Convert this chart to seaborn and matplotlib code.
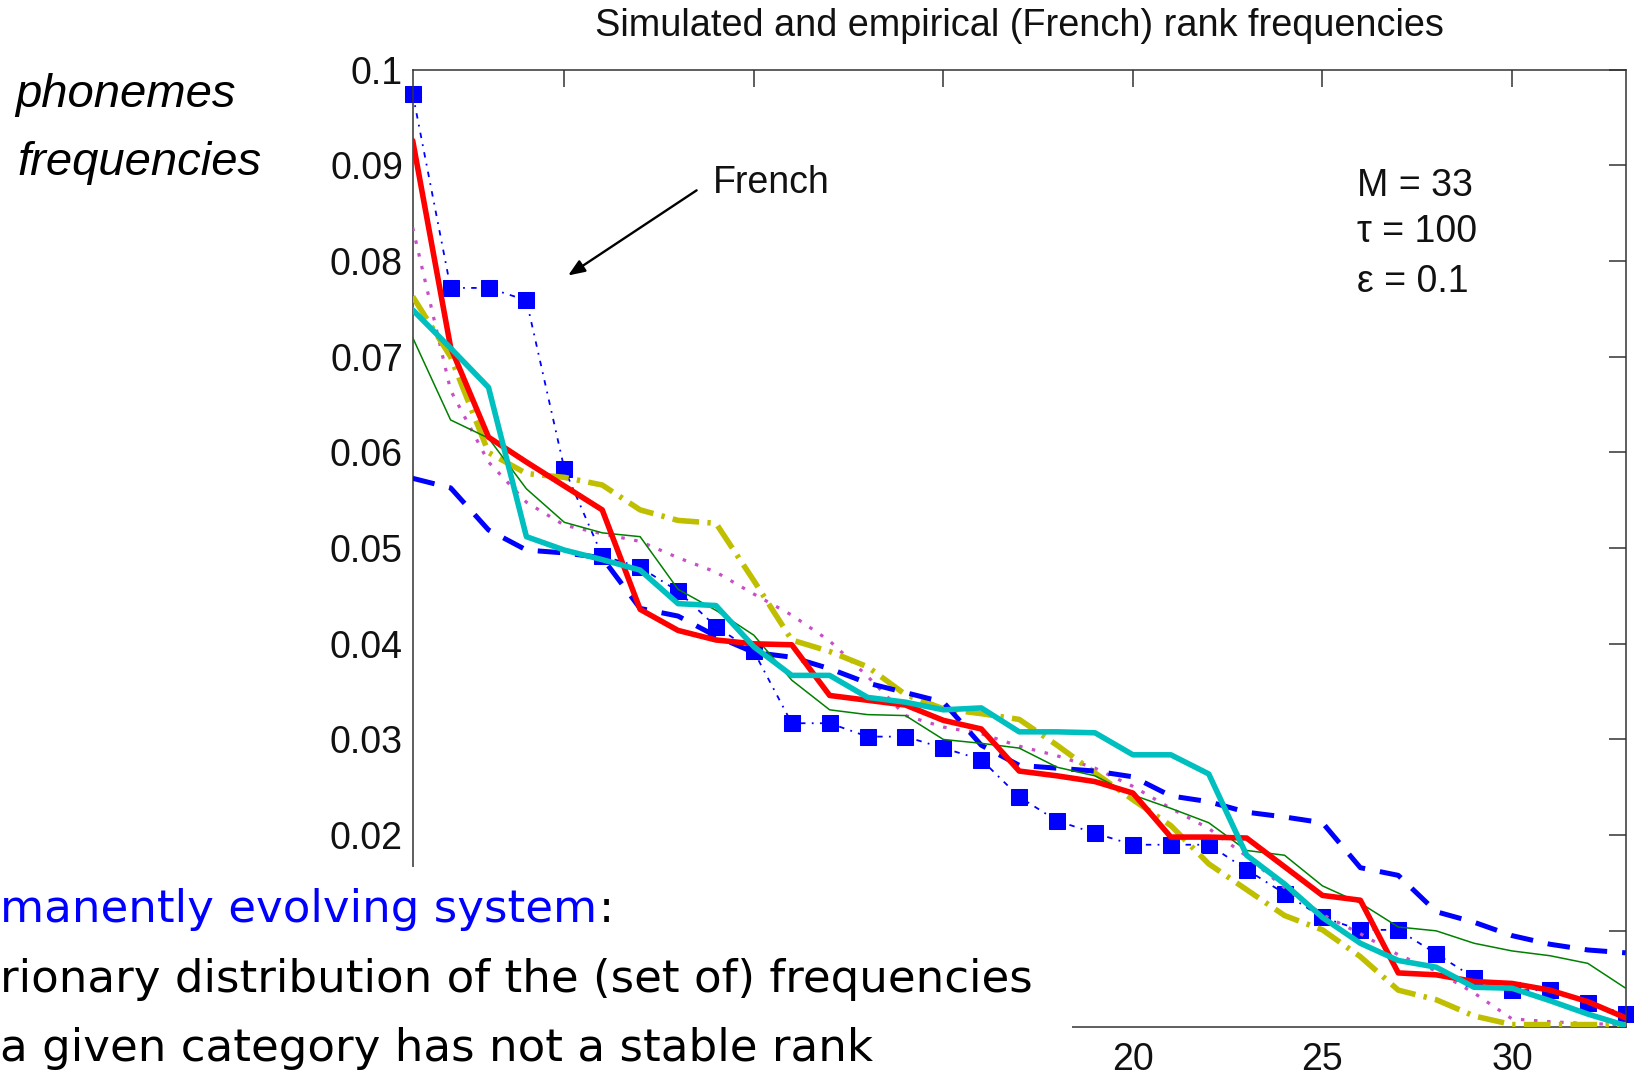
import numpy as np
import pandas as pd
import matplotlib
matplotlib.use("Agg")
import matplotlib.pyplot as plt
import seaborn as sns
from matplotlib.patches import Rectangle

# ---------------- data ----------------
ranks = list(range(1, 34))
french = [0.0975, 0.0772, 0.0772, 0.0759, 0.0583, 0.0492, 0.0480, 0.0455, 0.0418, 0.0392,
          0.0317, 0.0317, 0.0303, 0.0303, 0.0291, 0.0279, 0.0240, 0.0215, 0.0202, 0.0190,
          0.0190, 0.0190, 0.0164, 0.0139, 0.0114, 0.0101, 0.0101, 0.0076, 0.0051, 0.0038,
          0.0038, 0.0025, 0.0013]
sim_magenta = [0.0835, 0.0665, 0.0590, 0.0548, 0.0524, 0.0515, 0.0507, 0.0490, 0.0475, 0.0452,
               0.0430, 0.0403, 0.0366, 0.0325, 0.0313, 0.0306, 0.0293, 0.0283, 0.0270, 0.0251,
               0.0228, 0.0207, 0.0178, 0.0145, 0.0117, 0.0097, 0.0075, 0.0058, 0.0035, 0.0008,
               0.0005, 0.0003, 0.0002]
sim_yellow = [0.0763, 0.0700, 0.0600, 0.0578, 0.0574, 0.0566, 0.0540, 0.0529, 0.0526, 0.0466,
              0.0404, 0.0392, 0.0376, 0.0347, 0.0332, 0.0327, 0.0321, 0.0294, 0.0265, 0.0237,
              0.0210, 0.0170, 0.0143, 0.0116, 0.0101, 0.0073, 0.0038, 0.0028, 0.0011, 0.0002,
              0.0002, 0.0002, 0.0002]
sim_blue = [0.0573, 0.0563, 0.0519, 0.0498, 0.0495, 0.0490, 0.0437, 0.0429, 0.0408, 0.0391,
            0.0386, 0.0374, 0.0359, 0.0349, 0.0339, 0.0294, 0.0273, 0.0270, 0.0267, 0.0261,
            0.0241, 0.0235, 0.0224, 0.0219, 0.0213, 0.0166, 0.0158, 0.0120, 0.0109, 0.0095,
            0.0086, 0.0080, 0.0077]
sim_green = [0.0720, 0.0634, 0.0615, 0.0562, 0.0527, 0.0516, 0.0512, 0.0457, 0.0435, 0.0409,
             0.0362, 0.0331, 0.0326, 0.0325, 0.0300, 0.0296, 0.0291, 0.0271, 0.0262, 0.0242,
             0.0228, 0.0213, 0.0184, 0.0179, 0.0147, 0.0129, 0.0104, 0.0100, 0.0087, 0.0079,
             0.0074, 0.0066, 0.0040]
sim_red = [0.0926, 0.0710, 0.0616, 0.0590, 0.0565, 0.0540, 0.0436, 0.0414, 0.0404, 0.0400,
           0.0399, 0.0346, 0.0341, 0.0336, 0.0320, 0.0311, 0.0267, 0.0262, 0.0256, 0.0244,
           0.0198, 0.0198, 0.0197, 0.0167, 0.0137, 0.0132, 0.0056, 0.0054, 0.0047, 0.0045,
           0.0038, 0.0026, 0.0009]
sim_cyan = [0.0749, 0.0709, 0.0668, 0.0512, 0.0498, 0.0488, 0.0477, 0.0442, 0.0440, 0.0397,
            0.0367, 0.0367, 0.0344, 0.0339, 0.0331, 0.0333, 0.0308, 0.0308, 0.0307, 0.0284,
            0.0284, 0.0264, 0.0179, 0.0149, 0.0114, 0.0087, 0.0069, 0.0062, 0.0041, 0.0040,
            0.0027, 0.0013, 0.0001]

xtick_vals = [5, 10, 15, 20, 25, 30]
ytick_vals = [0, 0.01, 0.02, 0.03, 0.04, 0.05, 0.06, 0.07, 0.08, 0.09, 0.1]
# tick labels hidden under the slide's text box in the reference
xtick_labels = ["", "", "", "20", "25", "30"]
ytick_labels = ["", "", "0.02", "0.03", "0.04", "0.05", "0.06", "0.07", "0.08", "0.09", "0.1"]
title = "Simulated and empirical (French) rank frequencies"
params = ["M = 33", "\u03c4 = 100", "\u03b5 = 0.1"]
side_label = ["phonemes", "frequencies"]
bullet_lines = ["manently evolving system", "rionary distribution of the (set of) frequencies",
                "a given category has not a stable rank"]

# ---------------- figure ----------------
sns.set_style("white")
plt.rcParams["font.family"] = ["Liberation Sans", "DejaVu Sans"]

W, H = 1634, 1081
fig = plt.figure(figsize=(W / 100, H / 100), dpi=100)
fig.patch.set_facecolor("white")
ax_l, ax_r, ax_t, ax_b = 412.7, 1625.7, 69.8, 1026.5
ax = fig.add_axes([ax_l / W, 1 - ax_b / H, (ax_r - ax_l) / W, (ax_b - ax_t) / H])

df = pd.DataFrame({"rank": ranks, "french": french, "m": sim_magenta, "y": sim_yellow,
                   "b": sim_blue, "g": sim_green, "r": sim_red, "c": sim_cyan})

sns.lineplot(data=df, x="rank", y="french", ax=ax, color="#0000FF", linewidth=1.3,
             linestyle=(0, (3, 3.5, 1, 3.5)), marker="s", markersize=11,
             markeredgecolor="#0000FF", markerfacecolor="#0000FF", clip_on=False, zorder=2)
sns.lineplot(data=df, x="rank", y="m", ax=ax, color="#C84FC8", linewidth=2.3,
             linestyle=(0, (1.1, 3.0)), zorder=3)
sns.lineplot(data=df, x="rank", y="y", ax=ax, color="#BFBF00", linewidth=4.0,
             linestyle=(0, (4.8, 1.5, 0.6, 1.5)), zorder=4)
sns.lineplot(data=df, x="rank", y="b", ax=ax, color="#0000FF", linewidth=3.6,
             linestyle=(0, (4.5, 3)), zorder=5)
sns.lineplot(data=df, x="rank", y="g", ax=ax, color="#008000", linewidth=1.1,
             linestyle="-", zorder=6)
sns.lineplot(data=df, x="rank", y="r", ax=ax, color="#FF0000", linewidth=4.0,
             linestyle="-", zorder=7)
sns.lineplot(data=df, x="rank", y="c", ax=ax, color="#00BFBF", linewidth=4.0,
             linestyle="-", zorder=8)

ax.set_xlim(1, 33)
ax.set_ylim(0, 0.1)
ax.set_xticks(xtick_vals)
ax.set_yticks(ytick_vals)
ax.set_xticklabels(xtick_labels)
ax.set_yticklabels(ytick_labels)
ax.set_xlabel("")
ax.set_ylabel("")
spine_col = "#333333"
for s in ax.spines.values():
    s.set_visible(True)
    s.set_color(spine_col)
    s.set_linewidth(1.1)
ax.tick_params(direction="in", length=12, width=1.1, color=spine_col, top=True, right=True,
               labelsize=27, labelcolor="#111111")
ax.tick_params(axis="y", pad=7)
ax.tick_params(axis="x", pad=11)
ax.set_title(title, fontsize=27.3, pad=24, color="#111111")

# annotations inside axes
ax.annotate("", xy=(5.10, 0.0785), xytext=(8.49, 0.0874),
            arrowprops=dict(arrowstyle="-|>,head_length=1.0,head_width=0.4", lw=1.7,
                            color="black", shrinkA=0, shrinkB=0))
ax.text(8.93, 0.0871, "French", fontsize=27, va="baseline", ha="left", color="#111111")
for txt, yv in zip(params, [0.0868, 0.0820, 0.0768]):
    ax.text(25.92, yv, txt, fontsize=27, va="baseline", ha="left", color="#111111")

# slide text
fig.text(15 / W, 1 - 107 / H, side_label[0], fontsize=34, style="italic",
         va="baseline", ha="left", color="black")
fig.text(17 / W, 1 - 175 / H, side_label[1], fontsize=34, style="italic",
         va="baseline", ha="left", color="black")

# white text box covering lower left of chart
box_r, box_t = 1072, 867
fig.patches.append(Rectangle((0, 0), box_r / W, (H - box_t) / H, transform=fig.transFigure,
                             facecolor="white", edgecolor="none", zorder=10))

bfs = 32.5
t1 = fig.text(0.5 / W, 1 - 922 / H, bullet_lines[0], fontsize=bfs, color="#0000FF",
              va="baseline", ha="left", family="DejaVu Sans", zorder=11)
fig.text(0.5 / W, 1 - 992 / H, bullet_lines[1], fontsize=bfs, color="black",
         va="baseline", ha="left", family="DejaVu Sans", zorder=11)
fig.text(0.5 / W, 1 - 1061 / H, bullet_lines[2], fontsize=bfs, color="black",
         va="baseline", ha="left", family="DejaVu Sans", zorder=11)
renderer = fig.canvas.get_renderer()
bb = t1.get_window_extent(renderer)
fig.text(bb.x1 / W + 1 / W, 1 - 922 / H, ":", fontsize=bfs, color="black",
         va="baseline", ha="left", family="DejaVu Sans", zorder=11)

fig.savefig("out.png", dpi=100, facecolor="white")
